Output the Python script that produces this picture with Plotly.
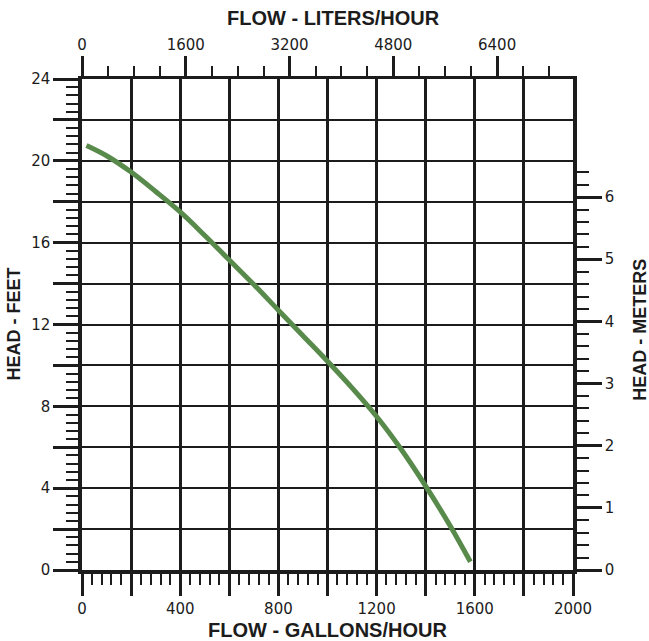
import plotly.graph_objects as go

# ---- data ----
flow_gph = [18, 100, 200, 300, 400, 500, 600, 700, 800, 900, 1000, 1100, 1200, 1300, 1400, 1500, 1582]
head_ft = [20.75, 20.25, 19.45, 18.5, 17.5, 16.35, 15.15, 13.95, 12.7, 11.45, 10.2, 8.9, 7.5, 5.9, 4.1, 2.15, 0.4]

gph_ticks = [0, 200, 400, 600, 800, 1000, 1200, 1400, 1600, 1800, 2000]
gph_labels = ["0", "", "400", "", "800", "", "1200", "", "1600", "", "2000"]
lph_ticks = [0, 1600, 3200, 4800, 6400]
lph_labels = ["0", "1600", "3200", "4800", "6400"]
ft_ticks = [0, 2, 4, 6, 8, 10, 12, 14, 16, 18, 20, 22, 24]
ft_labels = ["0", "", "4", "", "8", "", "12", "", "16", "", "20", "", "24"]
m_ticks = [0, 1, 2, 3, 4, 5, 6]
m_labels = ["0", "1", "2", "3", "4", "5", "6"]
m_minor = [0.2, 0.4, 0.6, 0.8, 1.2, 1.4, 1.6, 1.8, 2.2, 2.4, 2.6, 2.8, 3.2, 3.4, 3.6, 3.8,
           4.2, 4.4, 4.6, 4.8, 5.2, 5.4, 5.6, 5.8, 6.2, 6.4]

GPH_MAX = 2000
LPH_MAX = 2000 * 3.785
FT_MAX = 24
M_MAX = 7.9

INK = "#1c1c1c"
tickfont = dict(family="DejaVu Sans", size=15, color=INK)
titlefont = dict(family="Liberation Sans", size=20, color=INK, weight="bold")
sidefont = dict(family="Liberation Sans", size=18, color=INK, weight="bold")

fig = go.Figure()
fig.add_trace(go.Scatter(x=flow_gph, y=head_ft, mode="lines", line=dict(color="#588a4b", width=5, shape="spline"),
                         xaxis="x", yaxis="y", showlegend=False, hoverinfo="skip"))
fig.add_trace(go.Scatter(x=[None], y=[None], mode="lines", xaxis="x2", yaxis="y2", showlegend=False, hoverinfo="skip"))

fig.update_layout(
    width=649, height=641,
    margin=dict(l=82, r=76, t=79, b=71),
    paper_bgcolor="white", plot_bgcolor="white",
    xaxis=dict(range=[0, GPH_MAX], tickmode="array", tickvals=gph_ticks, ticktext=gph_labels,
               ticks="outside", ticklen=22, tickwidth=3, tickcolor=INK, tickfont=tickfont,
               showgrid=True, gridcolor=INK, gridwidth=2.5, zeroline=False,
               showline=True, linecolor=INK, linewidth=3.5,
               minor=dict(dtick=40, tick0=0, ticks="outside", ticklen=11, tickwidth=2, tickcolor=INK, showgrid=False)),
    xaxis2=dict(range=[0, LPH_MAX], overlaying="x", side="top", tickmode="array", tickvals=lph_ticks,
                ticktext=lph_labels, ticks="outside", ticklen=20, tickwidth=3, tickcolor=INK, tickfont=tickfont,
                showgrid=False, zeroline=False, showline=True, linecolor=INK, linewidth=3,
                minor=dict(dtick=400, tick0=0, ticks="outside", ticklen=10, tickwidth=2, tickcolor=INK, showgrid=False)),
    yaxis=dict(range=[0, FT_MAX], tickmode="array", tickvals=ft_ticks, ticktext=ft_labels,
               ticks="outside", ticklen=25, tickwidth=3, tickcolor=INK, tickfont=tickfont,
               showgrid=True, gridcolor=INK, gridwidth=1.6, zeroline=False,
               showline=True, linecolor=INK, linewidth=3.5,
               minor=dict(dtick=0.4, tick0=0, ticks="outside", ticklen=12, tickwidth=2, tickcolor=INK, showgrid=False)),
    yaxis2=dict(range=[0, M_MAX], overlaying="y", side="right", tickmode="array", tickvals=m_ticks,
                ticktext=m_labels, ticks="outside", ticklen=25, tickwidth=3, tickcolor=INK, tickfont=tickfont,
                showgrid=False, zeroline=False, showline=True, linecolor=INK, linewidth=3.5,
                minor=dict(tickmode="array", tickvals=m_minor, ticks="outside", ticklen=12, tickwidth=2,
                           tickcolor=INK, showgrid=False)),
    annotations=[
        dict(text="FLOW - LITERS/HOUR", xref="paper", yref="paper", x=0.513, y=1.124,
             xanchor="center", yanchor="middle", showarrow=False, font=titlefont),
        dict(text="FLOW - GALLONS/HOUR", xref="paper", yref="paper", x=0.5, y=-0.122,
             xanchor="center", yanchor="middle", showarrow=False, font=titlefont),
        dict(text="HEAD - FEET", xref="paper", yref="paper", x=-0.1375, y=0.501, textangle=-90,
             xanchor="center", yanchor="middle", showarrow=False, font=sidefont),
        dict(text="HEAD - METERS", xref="paper", yref="paper", x=1.136, y=0.489, textangle=-90,
             xanchor="center", yanchor="middle", showarrow=False, font=sidefont),
    ],
)

fig.write_html("out.html", config={"displayModeBar": False},
               post_script="document.body.style.margin='0';")
